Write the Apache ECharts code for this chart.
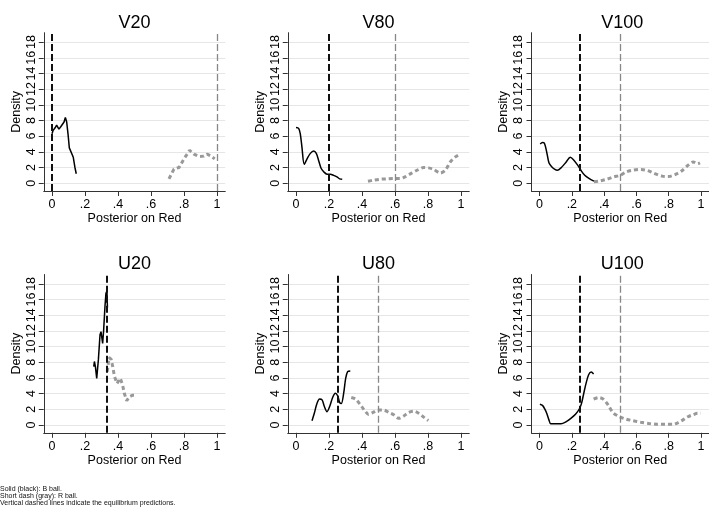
<!DOCTYPE html>
<html>
<head>
<meta charset="utf-8">
<script src="https://cdn.jsdelivr.net/npm/echarts@6/dist/echarts.min.js"></script>
<style>
  html, body { margin: 0; padding: 0; background: #fff; }
  #main { width: 709px; height: 519px; }
</style>
</head>
<body>
<div id="main"></div>
<script>
// panel names and equilibrium predictions (B ball = black, R ball = gray)
var panelNames = ['V20', 'V80', 'V100', 'U20', 'U80', 'U100'];
var eqB = [0, 0.2, 0.25, 1 / 3, 0.25, 0.25];
var eqR = [1, 0.6, 0.5, null, 0.5, 0.5];
var xTicks = [0, 0.2, 0.4, 0.6, 0.8, 1];
var yTicks = [0, 2, 4, 6, 8, 10, 12, 14, 16, 18];
var notes = [
  'Solid (black): B ball.',
  'Short dash (gray): R ball.',
  'Vertical dashed lines indicate the equilibrium predictions.'
];

// densities: [posterior on red, density]
var v20B = [[0, 6.3], [0.006, 6.7], [0.012, 6.5], [0.02, 7.1], [0.028, 7.4], [0.034, 7.6], [0.042, 6.9],
  [0.053, 7.2], [0.063, 7.1], [0.073, 7.8], [0.081, 8.4], [0.089, 7.8], [0.097, 6.3], [0.105, 4.5],
  [0.117, 4.3], [0.129, 3.3], [0.139, 2.0], [0.147, 1.2]];
var v20R = [[0.709, 0.55], [0.739, 1.8], [0.77, 2.0], [0.8, 3.1], [0.834, 4.2], [0.86, 3.7], [0.89, 3.4],
  [0.92, 3.45], [0.94, 3.7], [0.96, 3.5], [0.986, 3.1]];

var v80B = [[0, 7.1], [0.016, 7.0], [0.026, 6.3], [0.036, 4.6], [0.05, 2.4], [0.067, 3.1], [0.087, 3.8],
  [0.107, 4.1], [0.123, 3.8], [0.137, 2.9], [0.152, 1.9], [0.168, 1.45], [0.188, 1.15], [0.208, 1.15],
  [0.228, 1.0], [0.248, 0.8], [0.265, 0.55], [0.28, 0.5]];
var v80R = [[0.436, 0.25], [0.47, 0.38], [0.51, 0.5], [0.55, 0.55], [0.59, 0.6], [0.63, 0.6], [0.66, 0.8],
  [0.69, 1.15], [0.733, 1.65], [0.774, 2.0], [0.804, 1.95], [0.834, 1.75], [0.875, 1.3], [0.905, 1.65],
  [0.935, 2.7], [0.966, 3.35], [0.996, 3.7]];

var v100B = [[0.004, 5.0], [0.018, 5.2], [0.03, 5.1], [0.044, 4.0], [0.058, 2.6], [0.075, 2.1], [0.095, 1.75],
  [0.11, 1.65], [0.135, 2.0], [0.165, 2.7], [0.19, 3.3], [0.21, 3.0], [0.236, 2.3], [0.256, 1.65],
  [0.28, 1.0], [0.306, 0.6], [0.337, 0.25]];
var v100R = [[0.337, 0.17], [0.377, 0.3], [0.417, 0.5], [0.458, 0.8], [0.5, 1.0], [0.538, 1.45], [0.579, 1.65],
  [0.629, 1.75], [0.67, 1.6], [0.71, 1.25], [0.76, 0.9], [0.8, 0.85], [0.84, 1.1], [0.88, 1.55],
  [0.921, 2.3], [0.952, 2.7], [0.98, 2.5], [0.994, 2.6]];

var u20B = [[0.253, 7.45], [0.257, 8.1], [0.263, 7.45], [0.271, 5.95], [0.281, 8.3], [0.291, 11.5],
  [0.297, 11.9], [0.307, 10.4], [0.313, 12.1], [0.321, 15.1], [0.327, 16.8], [0.333, 17.1], [0.336, 15.0]];
var u20R = [[0.335, 6.8], [0.345, 8.6], [0.358, 8.4], [0.368, 7.45], [0.378, 6.25], [0.394, 5.3],
  [0.414, 5.95], [0.428, 5.1], [0.438, 4.05], [0.453, 3.1], [0.469, 3.6], [0.489, 3.8], [0.503, 3.8]];

var u80B = [[0.097, 0.55], [0.111, 1.5], [0.127, 2.75], [0.143, 3.3], [0.158, 3.2], [0.172, 2.35],
  [0.188, 1.7], [0.204, 2.35], [0.222, 3.5], [0.238, 4.05], [0.253, 3.7], [0.265, 2.85], [0.275, 2.75],
  [0.289, 4.05], [0.301, 5.95], [0.313, 6.8], [0.329, 6.9]];
var u80R = [[0.335, 3.5], [0.36, 3.3], [0.386, 2.7], [0.414, 1.9], [0.44, 1.35], [0.467, 1.6], [0.495, 1.9],
  [0.531, 1.9], [0.562, 1.6], [0.592, 1.3], [0.622, 0.85], [0.653, 1.15], [0.683, 1.6], [0.713, 1.75],
  [0.743, 1.5], [0.774, 1.0], [0.802, 0.55]];

var u100B = [[0.002, 2.65], [0.018, 2.5], [0.032, 2.05], [0.046, 1.4], [0.058, 0.65], [0.069, 0.15],
  [0.093, 0.15], [0.133, 0.15], [0.163, 0.4], [0.194, 0.85], [0.224, 1.4], [0.248, 2.1], [0.26, 2.75],
  [0.274, 4.05], [0.288, 5.3], [0.304, 6.4], [0.32, 6.75], [0.335, 6.5]];
var u100R = [[0.335, 3.3], [0.365, 3.5], [0.395, 3.3], [0.425, 2.55], [0.456, 1.55], [0.496, 1.05],
  [0.536, 0.75], [0.577, 0.55], [0.627, 0.35], [0.677, 0.2], [0.728, 0.1], [0.778, 0.1], [0.829, 0.1],
  [0.859, 0.3], [0.889, 0.65], [0.919, 1.05], [0.95, 1.3], [0.98, 1.5], [1.0, 1.5]];

var blackData = [v20B, v80B, v100B, u20B, u80B, u100B];
var grayData = [v20R, v80R, v100R, u20R, u80R, u100R];
var jagged = [true, false, false, true, false, false];

var font = '"Liberation Sans", Arial, Helvetica, sans-serif';
var colLeft = [43.75, 287.75, 531.5];
var rowTop = [32.7, 274.5];
var gw = 181.5, gh = 158.3;

function fmtX (v) {
  if (v === 0) return '0';
  if (v === 1) return '1';
  return String(Math.round(v * 10) / 10).replace(/^0\./, '.');
}

var grids = [], xAxes = [], yAxes = [], titles = [], series = [];
panelNames.forEach(function (name, i) {
  var left = colLeft[i % 3], top = rowTop[Math.floor(i / 3)];
  grids.push({ left: left, top: top, width: gw, height: gh });
  titles.push({
    text: name, left: left + gw / 2, top: top - 19, textAlign: 'center', padding: 0,
    textStyle: { fontSize: 18, fontWeight: 'normal', color: '#000', fontFamily: font }
  });
  xAxes.push({
    gridIndex: i, type: 'value', min: -0.05, max: 1.05,
    axisLine: { show: true, onZero: false, lineStyle: { color: '#333', width: 1 } },
    axisTick: { show: true, length: 5, customValues: xTicks, lineStyle: { color: '#333' } },
    axisLabel: { customValues: xTicks, formatter: fmtX, fontSize: 12.5, color: '#000', margin: 7, fontFamily: font },
    splitLine: { show: false },
    name: 'Posterior on Red', nameLocation: 'middle', nameGap: 21,
    nameTextStyle: { fontSize: 12.5, color: '#000', fontFamily: font }
  });
  yAxes.push({
    gridIndex: i, type: 'value', min: -1, max: 19.2,
    axisLine: { show: true, onZero: false, lineStyle: { color: '#333', width: 1 } },
    axisTick: { show: true, length: 5, customValues: yTicks, lineStyle: { color: '#333' } },
    axisLabel: { customValues: yTicks, rotate: 90, fontSize: 12.5, color: '#000', margin: 6, fontFamily: font },
    splitLine: { show: true, lineStyle: { color: '#e6e6e6', width: 1 } },
    name: 'Density', nameLocation: 'middle', nameGap: 21, nameRotate: 90,
    nameTextStyle: { fontSize: 12.5, color: '#000', fontFamily: font }
  });
  series.push({
    type: 'line', xAxisIndex: i, yAxisIndex: i, data: grayData[i],
    showSymbol: false, smooth: jagged[i] ? false : 0.3, z: 2,
    lineStyle: { color: '#999', width: 3, type: [4, 3], cap: 'butt' },
    markLine: eqR[i] == null ? undefined : {
      silent: true, symbol: 'none', label: { show: false },
      lineStyle: { color: '#888', width: 1.3, type: [7, 3] },
      data: [{ xAxis: eqR[i] }]
    }
  });
  series.push({
    type: 'line', xAxisIndex: i, yAxisIndex: i, data: blackData[i],
    showSymbol: false, smooth: jagged[i] ? false : 0.3, z: 3,
    lineStyle: { color: '#000', width: 1.5 },
    markLine: {
      silent: true, symbol: 'none', label: { show: false },
      lineStyle: { color: '#111', width: 2, type: [7, 3] },
      data: [{ xAxis: eqB[i] }]
    }
  });
});

var chart = echarts.init(document.getElementById('main'));
chart.setOption({
  animation: false,
  backgroundColor: '#fff',
  title: titles,
  grid: grids,
  xAxis: xAxes,
  yAxis: yAxes,
  series: series,
  graphic: [{
    type: 'text', left: 0, top: 486,
    style: { text: notes.join('\n'), font: '7px ' + font, lineHeight: 7, fill: '#111' }
  }]
});
</script>
</body>
</html>
